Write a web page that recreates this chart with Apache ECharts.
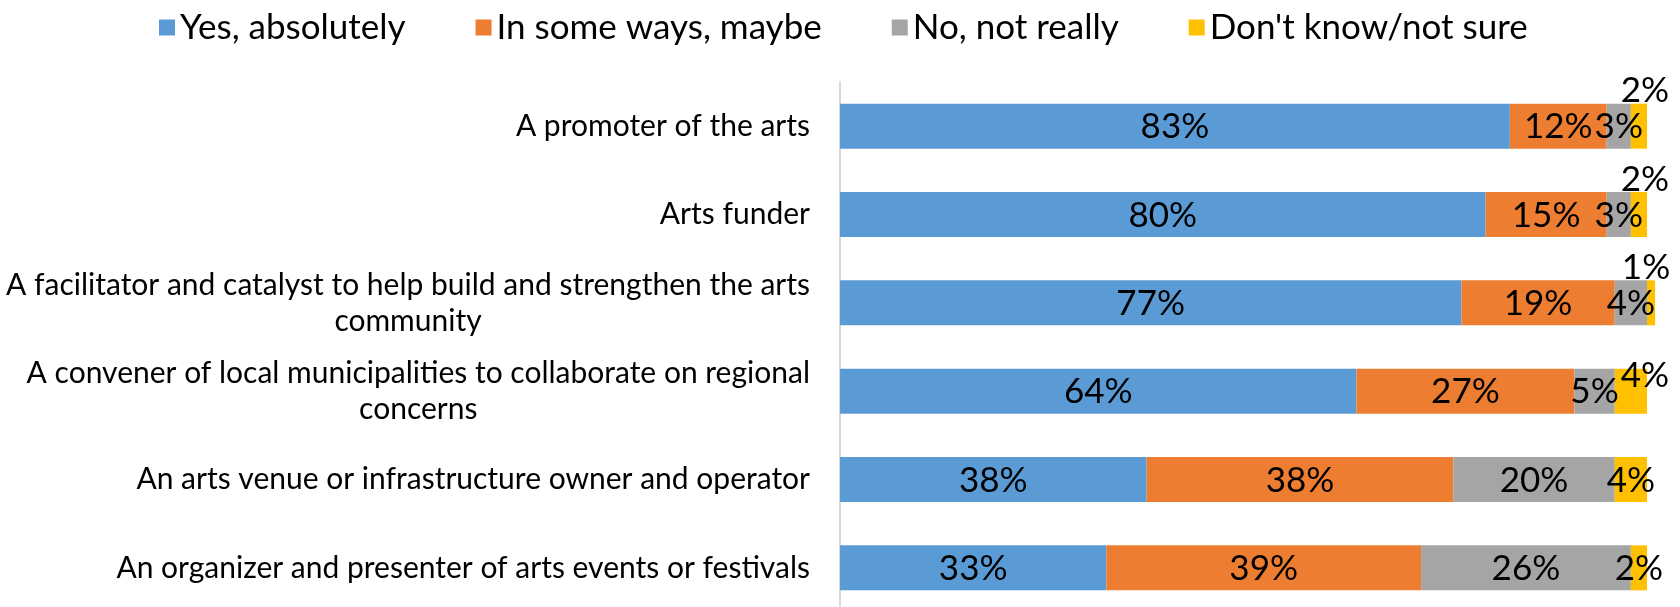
<!DOCTYPE html>
<html>
<head>
<meta charset="utf-8">
<script src="https://cdn.jsdelivr.net/npm/echarts@6/dist/echarts.min.js"></script>
<style>
  html, body { margin: 0; padding: 0; background: #fff; overflow: hidden; }
  #chart { width: 1680px; height: 607px; }
</style>
</head>
<body>
<div id="chart"></div>
<script>
// Survey: which roles should the organisation play? (share of respondents)
const categories = [
  'A promoter of the arts',
  'Arts funder',
  'A facilitator and catalyst to help build and strengthen the arts\ncommunity',
  'A convener of local municipalities to collaborate on regional\nconcerns',
  'An arts venue or infrastructure owner and operator',
  'An organizer and presenter of arts events or festivals'
];
const seriesNames = ['Yes, absolutely', 'In some ways, maybe', 'No, not really', "Don't know/not sure"];
const yesAbsolutely = [83, 80, 77, 64, 38, 33];
const someWaysMaybe = [12, 15, 19, 27, 38, 39];
const noNotReally   = [3, 3, 4, 5, 20, 26];
const dontKnow      = [2, 2, 1, 4, 4, 2];
const colors = ['#5B9BD5', '#ED7D31', '#A5A5A5', '#FFC000'];

const FONT = 'Lato';
const labelStyle = {
  show: true,
  position: 'inside',
  formatter: '{c}%',
  color: '#000',
  fontFamily: FONT,
  fontSize: 35,
  offset: [0, 1]
};

// small "don't know" values: a few labels sit just above the bar end
const dontKnowLabels = [
  { position: 'top', distance: -5, offset: [6, 0] },
  { position: 'top', distance: -5, offset: [6, 0] },
  { position: 'top', distance: -5, offset: [-5, 0] },
  { position: 'inside', offset: [14, -15] },
  { position: 'inside', offset: [0, 1] },
  { position: 'inside', offset: [0, 1] }
];

function makeSeries(name, values, idx) {
  return {
    name: name,
    type: 'bar',
    stack: 'total',
    barWidth: 45,
    clip: false,
    itemStyle: { color: colors[idx] },
    label: labelStyle,
    emphasis: { disabled: true },
    data: values.map((v, i) => {
      if (idx === 3) {
        return { value: v, label: Object.assign({}, labelStyle, dontKnowLabels[i]) };
      }
      return v;
    })
  };
}

const chart = echarts.init(document.getElementById('chart'), null, { renderer: 'canvas' });
chart.setOption({
  animation: false,
  backgroundColor: '#fff',
  textStyle: { fontFamily: FONT },
  legend: {
    top: 5,
    left: 154,
    itemWidth: 16,
    itemHeight: 16,
    itemGap: 70,
    icon: 'rect',
    textStyle: { fontFamily: FONT, fontSize: 35, color: '#000' },
    data: seriesNames
  },
  grid: {
    left: 840, right: 33, top: 82, height: 530,
    containLabel: false,
    outerBoundsMode: 'none'
  },
  xAxis: {
    type: 'value',
    min: 0,
    max: 100,
    show: false
  },
  yAxis: {
    type: 'category',
    inverse: true,
    data: categories,
    axisLine: { show: true, lineStyle: { color: '#D9D9D9', width: 2 } },
    axisTick: { show: false },
    axisLabel: {
      margin: 30,
      color: '#000',
      fontFamily: FONT,
      fontSize: 30,
      lineHeight: 36,
      formatter: (val) => val.split('\n').map(s => '{c|' + s + '}').join('\n'),
      rich: {
        c: { align: 'center', fontFamily: FONT, fontSize: 30, lineHeight: 36, color: '#000' }
      }
    }
  },
  series: [
    makeSeries(seriesNames[0], yesAbsolutely, 0),
    makeSeries(seriesNames[1], someWaysMaybe, 1),
    makeSeries(seriesNames[2], noNotReally, 2),
    makeSeries(seriesNames[3], dontKnow, 3)
  ]
});
</script>
</body>
</html>
